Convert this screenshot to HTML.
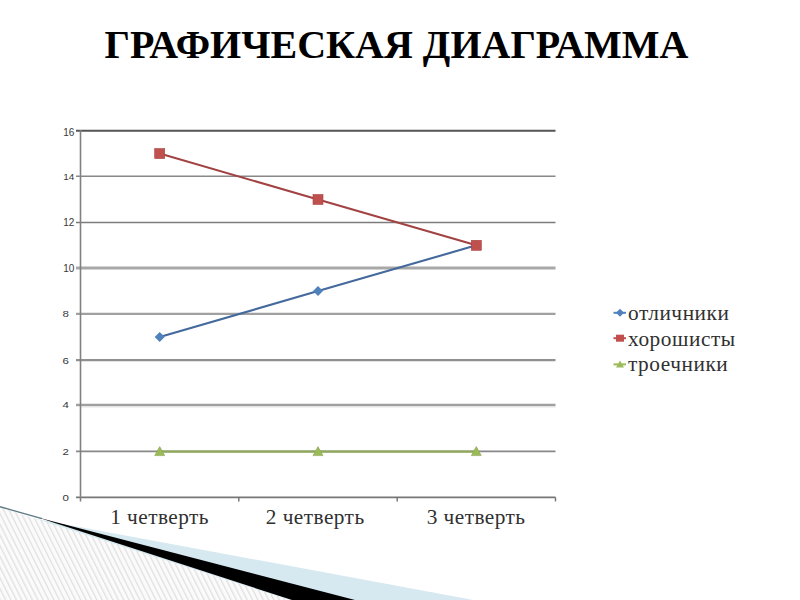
<!DOCTYPE html>
<html><head><meta charset="utf-8"><style>
html,body{margin:0;padding:0;background:#fff;}
body{width:800px;height:600px;position:relative;overflow:hidden;font-family:"Liberation Sans",sans-serif;}
.title{position:absolute;left:-3.5px;top:20.7px;width:800px;text-align:center;font-family:"Liberation Serif",serif;font-weight:bold;font-size:40px;color:#000;white-space:nowrap;}
svg{position:absolute;left:0;top:0;}
</style></head><body>
<svg width="800" height="600" viewBox="0 0 800 600" font-family="Liberation Sans">

<defs>
<pattern id="hatch" width="4.8" height="10" patternUnits="userSpaceOnUse" patternTransform="rotate(-26.57)">
<rect width="4.8" height="10" fill="#fbfbfb"/>
<rect x="0" y="0" width="1.3" height="10" fill="#e0e0e0"/>
</pattern>
</defs>
<polygon points="0,512.25 473.5,600 0,600" fill="#d6e8f0"/>
<polygon points="38,517.6 355,600 292,600" fill="#000"/>
<polygon points="0,507.4 292,600.6 0,600" fill="url(#hatch)"/>
<line x1="0" y1="506.75" x2="42" y2="518.7" stroke="#5d7886" stroke-width="1.3"/>

<line x1="76.0" y1="130.7" x2="555.5" y2="130.7" stroke="#555" stroke-width="2.0"/><line x1="76.0" y1="176.3" x2="555.5" y2="176.3" stroke="#888" stroke-width="1.6"/><line x1="76.0" y1="222.5" x2="555.5" y2="222.5" stroke="#7c7c7c" stroke-width="1.4"/><line x1="76.0" y1="268" x2="555.5" y2="268" stroke="#a8a8a8" stroke-width="3.0"/><line x1="76.0" y1="313.8" x2="555.5" y2="313.8" stroke="#a0a0a0" stroke-width="2.3"/><line x1="76.0" y1="360.2" x2="555.5" y2="360.2" stroke="#909090" stroke-width="2.2"/><line x1="76.0" y1="405" x2="555.5" y2="405" stroke="#a0a0a0" stroke-width="2.4"/><line x1="76.0" y1="451.3" x2="555.5" y2="451.3" stroke="#888" stroke-width="1.8"/><line x1="76.0" y1="497.4" x2="555.5" y2="497.4" stroke="#777" stroke-width="1.6"/><line x1="80.5" y1="406.9" x2="555.5" y2="406.9" stroke="#e4e4e4" stroke-width="1.2"/><line x1="80.5" y1="130" x2="80.5" y2="501.4" stroke="#808080" stroke-width="1.6"/><line x1="238.8" y1="497.4" x2="238.8" y2="501.4" stroke="#707070" stroke-width="1.4"/><line x1="397.2" y1="497.4" x2="397.2" y2="501.4" stroke="#707070" stroke-width="1.4"/><line x1="555.5" y1="497.4" x2="555.5" y2="501.4" stroke="#707070" stroke-width="1.4"/><text x="0" y="0" text-anchor="middle" font-size="10" fill="#383838" transform="translate(65.8 500.70) scale(1.15 0.922)">0</text><text x="0" y="0" text-anchor="middle" font-size="10" fill="#383838" transform="translate(65.8 454.60) scale(1.15 0.922)">2</text><text x="0" y="0" text-anchor="middle" font-size="10" fill="#383838" transform="translate(65.8 408.30) scale(1.15 0.922)">4</text><text x="0" y="0" text-anchor="middle" font-size="10" fill="#383838" transform="translate(65.8 363.50) scale(1.15 0.922)">6</text><text x="0" y="0" text-anchor="middle" font-size="10" fill="#383838" transform="translate(65.8 317.10) scale(1.15 0.922)">8</text><text x="0" y="0" text-anchor="end" font-size="10" fill="#383838" transform="translate(74.3 271.95) scale(1 1.145)">10</text><text x="0" y="0" text-anchor="end" font-size="10" fill="#383838" transform="translate(74.3 226.40) scale(1 1.034)">12</text><text x="0" y="0" text-anchor="end" font-size="10" fill="#383838" transform="translate(74.3 180.00) scale(1 0.950)">14</text><text x="0" y="0" text-anchor="end" font-size="10" fill="#383838" transform="translate(74.3 135.70) scale(1 1.117)">16</text><polyline fill="none" stroke="#8faa5a" stroke-width="2.1" points="159.7,451.6 318.0,451.6 476.3,451.6"/><polyline fill="none" stroke="#44699c" stroke-width="2.1" points="159.7,337.0 318.0,291.1 476.3,245.3"/><polyline fill="none" stroke="#a24242" stroke-width="2.1" points="159.7,153.6 318.0,199.5 476.3,245.3"/><polygon points="154.7,455.6 159.7,446.6 164.7,455.6" fill="#9BBB59" stroke="#8aa54f" stroke-width="0.6"/><polygon points="313.0,455.6 318.0,446.6 323.0,455.6" fill="#9BBB59" stroke="#8aa54f" stroke-width="0.6"/><polygon points="471.3,455.6 476.3,446.6 481.3,455.6" fill="#9BBB59" stroke="#8aa54f" stroke-width="0.6"/><polygon points="154.7,337.0 159.7,332.0 164.7,337.0 159.7,342.0" fill="#4F81BD"/><polygon points="313.0,291.1 318.0,286.1 323.0,291.1 318.0,296.1" fill="#4F81BD"/><polygon points="471.3,245.3 476.3,240.3 481.3,245.3 476.3,250.3" fill="#4F81BD"/><rect x="154.7" y="148.6" width="10" height="10" fill="#C0504D" stroke="#a84444" stroke-width="0.6"/><rect x="313.0" y="194.5" width="10" height="10" fill="#C0504D" stroke="#a84444" stroke-width="0.6"/><rect x="471.3" y="240.3" width="10" height="10" fill="#C0504D" stroke="#a84444" stroke-width="0.6"/><text x="159.6" y="524.3" text-anchor="middle" font-family="Liberation Serif" font-size="21.3" letter-spacing="0.45" fill="#303030">1 четверть</text><text x="315.2" y="524.3" text-anchor="middle" font-family="Liberation Serif" font-size="21.3" letter-spacing="0.45" fill="#303030">2 четверть</text><text x="476.1" y="524.3" text-anchor="middle" font-family="Liberation Serif" font-size="21.3" letter-spacing="0.45" fill="#303030">3 четверть</text><line x1="613.5" y1="312.8" x2="626" y2="312.8" stroke="#4F81BD" stroke-width="2"/><polygon points="616,312.8 620,308.8 624,312.8 620,316.8" fill="#4F81BD"/><text x="628" y="320" font-family="Liberation Serif" font-size="21.3" letter-spacing="0.55" fill="#303030">отличники</text><line x1="613.5" y1="338.2" x2="626" y2="338.2" stroke="#C0504D" stroke-width="2"/><rect x="616" y="334.7" width="8" height="7" fill="#C0504D"/><text x="628" y="345.6" font-family="Liberation Serif" font-size="21.3" letter-spacing="0.55" fill="#303030">хорошисты</text><line x1="613.5" y1="364.4" x2="626" y2="364.4" stroke="#9BBB59" stroke-width="2"/><polygon points="616,367.4 620,360.4 624,367.4" fill="#9BBB59"/><text x="628" y="371.1" font-family="Liberation Serif" font-size="21.3" letter-spacing="0.55" fill="#303030">троечники</text>
</svg>
<div class="title">ГРАФИЧЕСКАЯ ДИАГРАММА</div>
</body></html>
